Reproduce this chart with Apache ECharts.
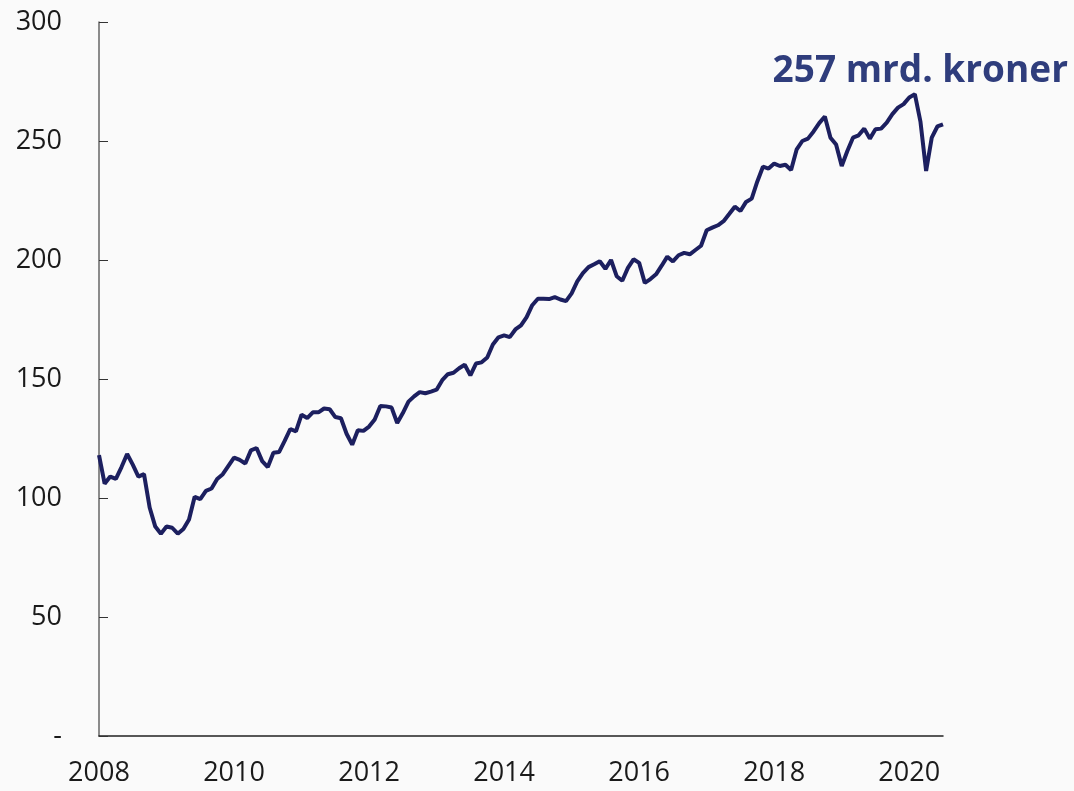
<!DOCTYPE html>
<html lang="no">
<head>
	<meta charset="UTF-8" />
	<title>Utvikling, mrd. kroner</title>
	<script src="https://cdn.jsdelivr.net/npm/echarts@6/dist/echarts.min.js"></script>
	<style>
		html, body { margin: 0; padding: 0; background: #fafafa; }
		#main { width: 1074px; height: 791px; }
	</style>
</head>
<body>
<div id="main"></div>
<script>
	// månedlige verdier, jan 2008 - jul 2020
	var years = ['2008', '2009', '2010', '2011', '2012', '2013', '2014', '2015', '2016', '2017', '2018', '2019', '2020'];
	var v2008 = [118, 106, 109, 108, 113, 118.5, 114, 109, 110, 96, 88, 85];
	var v2009 = [88, 87.5, 85, 87, 91, 100.5, 99.5, 103, 104, 108, 110, 113.5];
	var v2010 = [117, 116, 114.5, 120, 121, 115.5, 113, 119, 119.3, 124, 129, 128];
	var v2011 = [135, 133.6, 136, 136, 137.6, 137.3, 134, 133.5, 127, 122.4, 128.5, 128.2];
	var v2012 = [130, 133, 138.7, 138.5, 138, 131.5, 135.7, 140.5, 142.7, 144.5, 144, 144.7];
	var v2013 = [145.5, 149.5, 152, 152.6, 154.5, 156, 151.5, 156.5, 157, 159, 164.5, 167.5];
	var v2014 = [168.3, 167.6, 170.8, 172.5, 176, 181, 183.7, 183.7, 183.6, 184.4, 183.4, 182.7];
	var v2015 = [186, 191, 194.5, 197, 198.2, 199.5, 196.3, 200, 193.2, 191.3, 196.7, 200.3];
	var v2016 = [198.8, 190.4, 192, 194, 197.6, 201.4, 199.4, 202, 203, 202.4, 204.2, 206];
	var v2017 = [212.5, 213.6, 214.6, 216.3, 219.3, 222.4, 220.6, 224.4, 225.8, 233, 239.2, 238.4];
	var v2018 = [240.5, 239.5, 240, 237.8, 246.5, 250, 251, 254, 257.5, 260.3, 251.4, 248.5];
	var v2019 = [239.5, 245.8, 251.4, 252.4, 255.2, 251, 254.9, 255.2, 257.7, 261.3, 264, 265.5];
	var v2020 = [268.3, 269.7, 258, 237.4, 251.4, 256.1, 257];
	var yTicks = [0, 50, 100, 150, 200, 250, 300];

	var values = [].concat(v2008, v2009, v2010, v2011, v2012, v2013, v2014, v2015, v2016, v2017, v2018, v2019, v2020);
	var months = [];
	for (var i = 0; i < values.length; i++) {
		var m = i % 12 + 1;
		months.push(years[Math.floor(i / 12)] + '-' + (m < 10 ? '0' + m : m));
	}

	var mychart = echarts.init(document.getElementById('main'));
	mychart.setOption({
		backgroundColor: '#fafafa',
		animation: false,
		textStyle: { fontFamily: 'Open Sans' },
		grid: { left: 99, right: 131, top: 22, bottom: 55 },
		xAxis: {
			type: 'category',
			data: months,
			boundaryGap: false,
			axisLine: { lineStyle: { color: '#222', width: 1.5 } },
			axisTick: { show: false },
			axisLabel: {
				interval: 23,
				margin: 24,
				color: '#1a1a1a',
				fontSize: 27,
				formatter: function (v) { return v.slice(0, 4); }
			},
			splitLine: { show: false }
		},
		yAxis: {
			type: 'value',
			min: yTicks[0],
			max: yTicks[yTicks.length - 1],
			interval: 50,
			axisLine: { show: true, lineStyle: { color: '#666', width: 1.5 } },
			axisTick: { show: true, inside: true, length: 9, lineStyle: { color: '#333', width: 1 } },
			axisLabel: {
				margin: 37,
				color: '#1a1a1a',
				fontSize: 27,
				formatter: function (v) { return v === 0 ? '-' : String(v); }
			},
			splitLine: { show: false }
		},
		series: [{
			type: 'line',
			data: values,
			showSymbol: false,
			lineStyle: { color: '#1c1f5f', width: 4 }
		}],
		graphic: [{
			type: 'text',
			right: 6,
			top: 53,
			style: {
				text: '257 mrd. kroner',
				font: 'bold 37px "Open Sans"',
				fill: '#2f3d7c'
			}
		}]
	});
</script>
</body>
</html>
